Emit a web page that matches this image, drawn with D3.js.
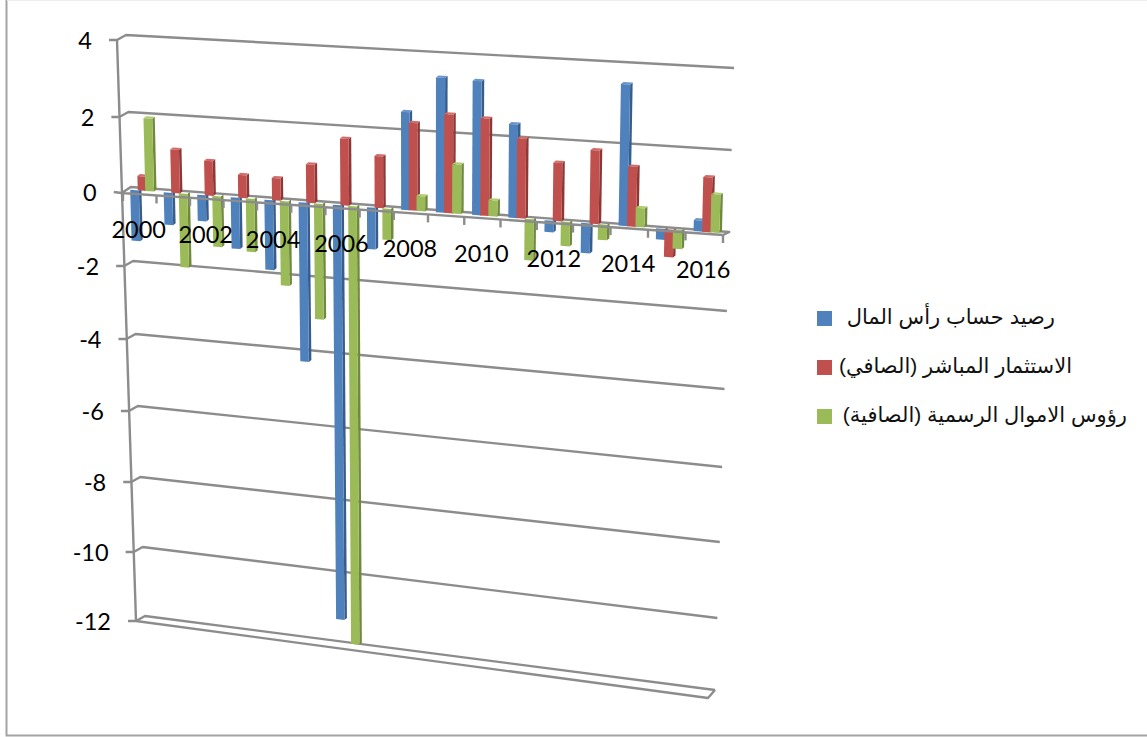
<!DOCTYPE html>
<html lang="ar">
<head>
<meta charset="utf-8">
<style>
  html, body { margin: 0; padding: 0; background: #fff; overflow: hidden; }
  svg { display: block; }
  .num { font-family: Lato, "Open Sans", sans-serif; fill: #000; }
  .leg { font-family: "Liberation Sans", "DejaVu Sans", sans-serif; fill: #111; }
</style>
</head>
<body>
<svg id="chart" width="1147" height="737"></svg>
<script src="https://cdn.jsdelivr.net/npm/d3@7/dist/d3.min.js"></script>
<script>
// Annual balances, billions
const years = [2000,2001,2002,2003,2004,2005,2006,2007,2008,2009,2010,2011,2012,2013,2014,2015,2016];
const capitalBalance = [-1.37,-0.87,-0.70,-1.37,-1.86,-4.25,-11.30,-1.10,2.50,3.41,3.38,2.35,-0.30,-0.77,3.50,-0.28,0.27];
const directInvestment = [0.38,1.15,0.91,0.60,0.58,1.00,1.72,1.33,2.23,2.50,2.45,2.00,1.46,1.83,1.48,-0.71,1.34];
const officialCapital = [1.93,-1.98,-1.36,-1.42,-2.25,-3.08,-11.95,-0.82,0.38,1.25,0.40,-1.07,-0.63,-0.40,0.47,-0.48,0.93];
const seriesNames = ["رصيد حساب رأس المال","الاستثمار المباشر (الصافي)","رؤوس الاموال الرسمية (الصافية)"];
const yTicks = [4,2,0,-2,-4,-6,-8,-10,-12];
const yearLabels = [2000,2002,2004,2006,2008,2010,2012,2014,2016];

const faceColors = ["#4f81bd","#c0504d","#9bbb59"];
const sideColors = ["#385d8a","#8c3836","#71893f"];
const capColors  = ["#6a96cb","#d06d6a","#b0cd72"];
const gridColor = "#8c8c8c";

const svg = d3.select("#chart");

// Oblique projection of the chart box: each value maps to a left and right end.
const cornerX = d3.scaleLinear().domain([4,-12]).range([117,136]);
const cornerY = d3.scaleLinear().domain(yTicks).range([40,117,192,266,339,411,482,552,621]);
const wallRightX = d3.scaleLinear().domain([4,-12]).range([734,715]);
const wallRightY = d3.scaleLinear().domain(yTicks).range([68,150,232,311,389,467,542,618,690]);
const wallLeft = v => [cornerX(v) + 9, cornerY(v) - 5];
const wallRight = v => [wallRightX(v), wallRightY(v)];

// Category boundaries widen slightly towards the right.
const catX = d3.scaleLinear().domain([0,4,9,13,17]).range([123,257,428,573,723]);

// Verticals converge: they fan out from a centre line as the value moves from zero.
const lean = (v, x) => v * (x - 420) * 0.0034;

// Vertical position in the plane the bars stand on.
function planeY(v, x) {
  const lx = cornerX(v) + 4.5, ly = cornerY(v) - 2.5;
  const rx = wallRightX(v) - 3, ry = wallRightY(v) + 1.5;
  return ly + (ry - ly) * (x - lx) / (rx - lx);
}

const line = d3.line();
const drawLine = (g, pts, width = 2.4) => g.append("path")
  .attr("d", line(pts)).attr("fill", "none")
  .attr("stroke", gridColor).attr("stroke-width", width).attr("stroke-linejoin", "round");

// Outer frame
svg.append("path").attr("d", line([[6.5,0],[6.5,735.5],[1147,735.5]]))
  .attr("fill","none").attr("stroke","#a3a3a3").attr("stroke-width",2);
svg.append("path").attr("d", line([[7,0.5],[1147,0.5]]))
  .attr("fill","none").attr("stroke","#eeeeee").attr("stroke-width",1);

// Back wall gridlines, side-wall connectors and tick stubs
const gridG = svg.append("g");
yTicks.filter(v => v !== 0).forEach(v => {
  drawLine(gridG, [[cornerX(v) - 8, cornerY(v)],[cornerX(v), cornerY(v)],wallLeft(v),wallRight(v)]);
});
drawLine(gridG, [[cornerX(4), cornerY(4)],[cornerX(-12), cornerY(-12)]]);

// Floor of the chart box at the lowest value
const lowFrontRight = [708,698];
drawLine(gridG, [[cornerX(-12), cornerY(-12)], lowFrontRight, wallRight(-12)]);

function barShapes(g, i, k, v) {
  const a = i + 0.215 + k * 0.225, b = a + 0.26 - 0.02 * i / years.length;
  const xa = catX(a), xb = catX(b);
  const dx = 2.5, dy = -2;
  const base0 = [xa, planeY(0, xa)], base1 = [xb, planeY(0, xb)];
  const tipX0 = xa + lean(v, xa), tipX1 = xb + lean(v, xb);
  const tip0 = [tipX0, planeY(v, tipX0)], tip1 = [tipX1, planeY(v, tipX1)];
  g.append("path").attr("fill", sideColors[k])
    .attr("d", line([base1,[base1[0]+dx,base1[1]+dy],[tip1[0]+dx,tip1[1]+dy],tip1]) + "Z");
  if (v > 0) {
    g.append("path").attr("fill", capColors[k])
      .attr("d", line([tip0,tip1,[tip1[0]+dx,tip1[1]+dy],[tip0[0]+dx,tip0[1]+dy]]) + "Z");
  }
  g.append("path").attr("fill", faceColors[k])
    .attr("d", line([base0,base1,tip1,tip0]) + "Z");
}

const allSeries = [capitalBalance, directInvestment, officialCapital];

// Bars below zero hang from the axis band, which is drawn over their roots.
const negG = svg.append("g");
years.forEach((y,i) => allSeries.forEach((s,k) => { if (s[i] < 0) barShapes(negG, i, k, s[i]); }));

// Zero-level band and its category ticks
const bandG = svg.append("g");
const zeroFrontL = [cornerX(0), cornerY(0) + 1], zeroFrontR = [723,235];
drawLine(bandG, [[cornerX(0) - 8, cornerY(0)], zeroFrontL, zeroFrontR, wallRight(0), wallLeft(0), zeroFrontL]);
d3.range(0, years.length + 1).forEach(i => {
  const x = catX(i);
  const y = zeroFrontL[1] + (zeroFrontR[1] - zeroFrontL[1]) * (x - zeroFrontL[0]) / (zeroFrontR[0] - zeroFrontL[0]);
  drawLine(bandG, [[x, y],[x, y + 8]]);
});

// Bars above zero
const posG = svg.append("g");
years.forEach((y,i) => allSeries.forEach((s,k) => { if (s[i] >= 0) barShapes(posG, i, k, s[i]); }));

// Value labels
svg.append("g").selectAll("text").data(yTicks).join("text")
  .attr("class","num").attr("font-size",23.5).attr("text-anchor","end")
  .attr("x", v => cornerX(v) - 25)
  .attr("y", v => cornerY(v) + 9)
  .text(d => d);

// Year labels follow the front edge of the band
svg.append("g").selectAll("text").data(yearLabels).join("text")
  .attr("class","num").attr("font-size",23.5).attr("text-anchor","middle")
  .attr("x", d => catX(d - 2000 + 0.5) - 1)
  .attr("y", d => {
    const x = catX(d - 2000 + 0.5);
    return zeroFrontL[1] + (zeroFrontR[1] - zeroFrontL[1]) * (x - zeroFrontL[0]) / (zeroFrontR[0] - zeroFrontL[0]) + 44;
  })
  .text(d => d);

// Legend
const legendY = d3.scaleLinear().domain([0,2]).range([311,409]);
const legendRight = [1055,1072,1127];
const legend = svg.append("g");
seriesNames.forEach((name,k) => {
  legend.append("rect").attr("x",817).attr("y",legendY(k)).attr("width",15).attr("height",15).attr("fill",faceColors[k]);
  legend.append("text").attr("class","leg").attr("direction","rtl").attr("text-anchor","start")
    .attr("font-size",21).attr("x",legendRight[k]).attr("y",legendY(k)+12.5).text(name);
});
</script>
</body>
</html>
